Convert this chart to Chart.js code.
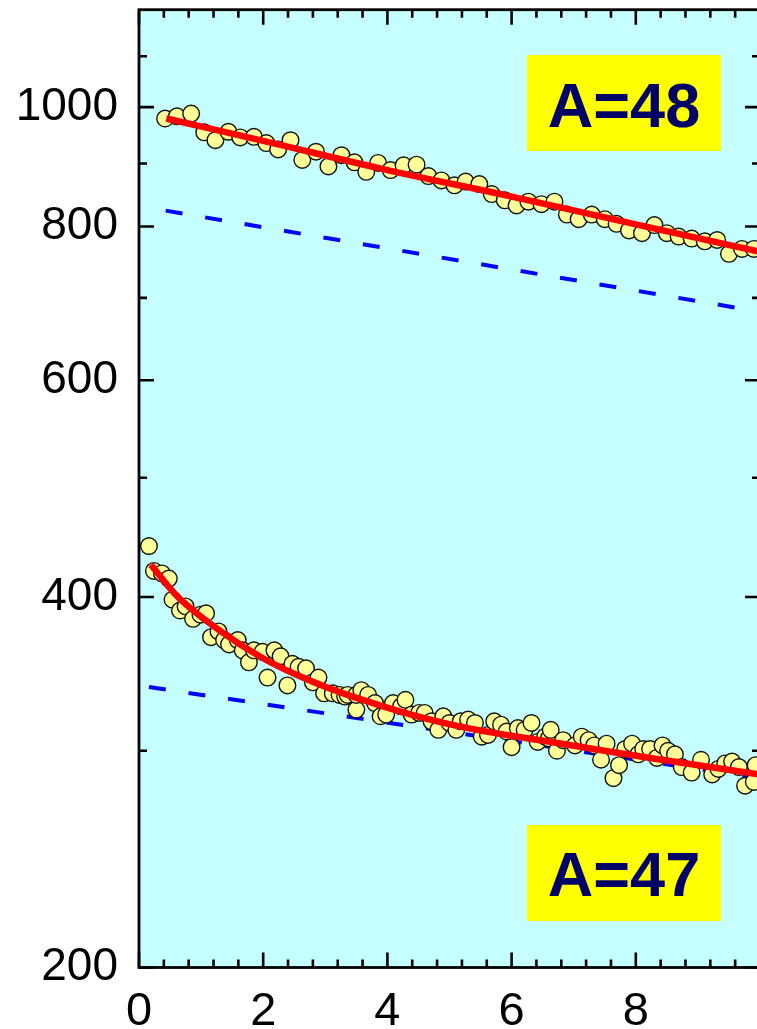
<!DOCTYPE html>
<html><head><meta charset="utf-8">
<script src="https://cdn.jsdelivr.net/npm/chart.js@4.4.1/dist/chart.umd.min.js"></script>
<style>
html,body{margin:0;padding:0;background:#fff;overflow:hidden;width:757px;height:1029px;}
#wrap{position:absolute;left:0;top:0;width:790px;height:1029px;}
</style></head><body>
<div id="wrap"><canvas id="c" width="790" height="1029"></canvas></div>
<script>
// ---- data ----
const x48 = [0.42,0.61,0.84,1.05,1.23,1.44,1.63,1.85,2.05,2.24,2.44,2.63,2.85,3.05,3.26,3.47,3.66,3.85,4.05,4.26,4.47,4.66,4.87,5.08,5.26,5.48,5.68,5.89,6.08,6.27,6.48,6.69,6.89,7.08,7.29,7.5,7.69,7.89,8.1,8.3,8.5,8.69,8.9,9.11,9.31,9.5,9.71,9.9];
const y48 = [979,983,988,954,940,955,945,946,935,924,940,906,920,895,914,902,886,901,889,897,898,879,872,864,870,866,850,840,832,838,834,838,818,811,818,811,804,794,790,802,790,785,782,778,780,760,767,767];
const fit48X = [0.44,2,4,6,8,10];
const fit48Y = [979,939,889,846,803,763];
const ref48X = [0.43,10];
const ref48Y = [824,682];

const x47 = [0.16,0.24,0.37,0.48,0.54,0.66,0.75,0.87,0.99,1.08,1.16,1.28,1.37,1.45,1.59,1.67,1.77,1.85,1.99,2.07,2.18,2.28,2.39,2.47,2.57,2.69,2.8,2.89,2.98,3.12,3.23,3.32,3.36,3.5,3.5,3.58,3.69,3.8,3.89,3.98,4.09,4.22,4.29,4.39,4.51,4.6,4.71,4.82,4.9,5.0,5.11,5.18,5.3,5.41,5.52,5.62,5.72,5.83,5.92,6.0,6.1,6.21,6.32,6.42,6.54,6.6,6.63,6.73,6.83,7.02,7.13,7.24,7.33,7.44,7.53,7.64,7.73,7.83,7.94,8.04,8.12,8.23,8.34,8.43,8.52,8.63,8.74,8.9,9.05,9.23,9.33,9.44,9.55,9.66,9.76,9.9,9.93];
const y47 = [440,420,418,414,398,390,393,384,387,388,371,375,369,366,369,362,354,362,361,344,362,358,339,353,351,350,341,344,334,334,333,332,333,324,333,336,333,328,320,321,328,326,330,321,322,322,317,312,320,316,312,317,318,316,308,309,317,315,311,302,313,312,316,305,308,307,312,300,306,303,308,306,303,295,304,285,292,301,304,298,301,301,296,303,300,298,291,288,295,287,290,293,294,291,281,283,292];
const fit47X = [0.19,0.65,1.29,1.94,2.58,3.44,5.03,6.81,8.23,10];
const fit47Y = [425,399,376,358,345,332,315,304,296,287];
const ref47X = [0.16,10];
const ref47Y = [338,285];

const yMajor = [200,400,600,800,1000];
const yMinor = [300,500,700,900,1100];
const xMajor = [0,2,4,6,8,10];
const xLabels = [0,2,4,6,8];
const xMinor = [0.4,0.8,1.2,1.6,2.4,2.8,3.2,3.6,4.4,4.8,5.2,5.6,6.4,6.8,7.2,7.6,8.4,8.8,9.2,9.6];
const boxLabels = ['A=48','A=47'];

const pts = (xs, ys) => xs.map((x,i)=>({x:x, y:ys[i]}));
const FONT = '"Liberation Sans", Arial, sans-serif';

const framePlugin = {
  id:'frame',
  beforeDatasetsDraw(chart){
    const {ctx, chartArea:a} = chart;
    ctx.save();
    ctx.fillStyle = '#c6ffff';
    ctx.fillRect(a.left, a.top, a.right-a.left, a.bottom-a.top);
    const boxes = [{t:boxLabels[0], x:527, y:55, base:126.5},{t:boxLabels[1], x:527, y:825, base:896}];
    boxes.forEach(b=>{
      ctx.fillStyle = '#ffff00';
      ctx.fillRect(b.x, b.y, 194, 96);
      ctx.fillStyle = '#000066';
      ctx.font = 'bold 63px ' + FONT;
      ctx.textAlign = 'center';
      ctx.textBaseline = 'alphabetic';
      ctx.fillText(b.t, b.x+97, b.base);
    });
    ctx.restore();
  },
  afterDraw(chart){
    const {ctx, chartArea:a, scales} = chart;
    const xs = scales.x, ys = scales.y;
    ctx.save();
    ctx.strokeStyle = '#000';
    ctx.lineWidth = 2.6;
    ctx.beginPath();
    const tick = (x1,y1,x2,y2)=>{ctx.moveTo(x1,y1);ctx.lineTo(x2,y2);};
    yMajor.forEach(v=>{const p=ys.getPixelForValue(v); tick(a.left,p,a.left+15,p); tick(a.right,p,a.right-15,p);});
    yMinor.forEach(v=>{const p=ys.getPixelForValue(v); tick(a.left,p,a.left+8,p); tick(a.right,p,a.right-8,p);});
    xMajor.forEach(v=>{const p=xs.getPixelForValue(v); tick(p,a.bottom,p,a.bottom-15); tick(p,a.top,p,a.top+15);});
    xMinor.forEach(v=>{const p=xs.getPixelForValue(v); tick(p,a.bottom,p,a.bottom-8); tick(p,a.top,p,a.top+8);});
    ctx.stroke();
    ctx.lineWidth = 2.8;
    ctx.strokeRect(a.left, a.top, a.right-a.left, a.bottom-a.top);
    ctx.restore();
  }
};

new Chart(document.getElementById('c'), {
  type:'scatter',
  data:{datasets:[
    {data:pts(fit48X,fit48Y), showLine:true, borderColor:'#ff0000', borderWidth:6.5, pointRadius:0, tension:0.4, fill:false, order:0},
    {data:pts(fit47X,fit47Y), showLine:true, borderColor:'#ff0000', borderWidth:6.5, pointRadius:0, tension:0.4, fill:false, order:0},
    {data:pts(x48,y48), backgroundColor:'#ffff99', borderColor:'#111', borderWidth:1.4, pointRadius:8.3, order:1},
    {data:pts(x47,y47), backgroundColor:'#ffff99', borderColor:'#111', borderWidth:1.4, pointRadius:8.3, order:1},
    {data:pts(ref48X,ref48Y), showLine:true, borderColor:'#0000ff', borderWidth:4, borderDash:[17,23], pointRadius:0, fill:false, order:2},
    {data:pts(ref47X,ref47Y), showLine:true, borderColor:'#0000ff', borderWidth:4, borderDash:[17,23], pointRadius:0, fill:false, order:2}
  ]},
  options:{
    responsive:false, animation:false, devicePixelRatio:1,
    layout:{padding:{top:9.5,right:30,bottom:0,left:0}},
    plugins:{legend:{display:false}, tooltip:{enabled:false}},
    scales:{
      x:{type:'linear', min:0, max:10,
        grid:{display:false, drawTicks:false}, border:{display:false},
        afterBuildTicks:s=>{s.ticks = xLabels.map(v=>({value:v}));},
        ticks:{padding:16, color:'#000', font:{family:FONT, size:47}, callback:v=>String(v), maxRotation:0, autoSkip:false},
        afterFit:s=>{s.height=61.5; s.paddingLeft=0; s.paddingRight=0;}
      },
      y:{type:'logarithmic', min:200, max:1200,
        grid:{display:false, drawTicks:false}, border:{display:false},
        afterBuildTicks:s=>{s.ticks = yMajor.map(v=>({value:v}));},
        ticks:{padding:21, color:'#000', font:{family:FONT, size:46}, callback:v=>String(v), autoSkip:false},
        afterFit:s=>{s.width=139; s.paddingTop=0; s.paddingBottom=0;}
      }
    }
  },
  plugins:[framePlugin]
});
</script>
</body></html>
